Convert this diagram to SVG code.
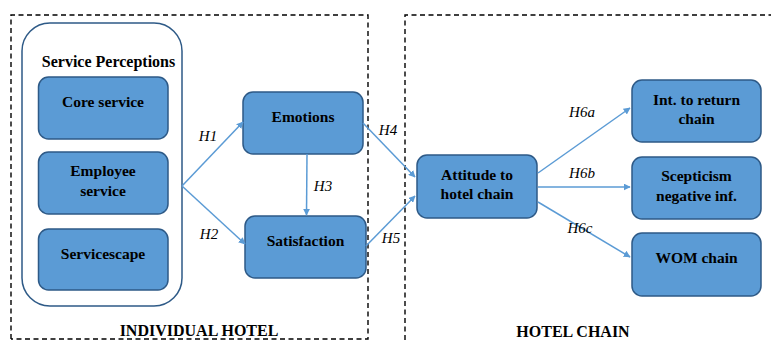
<svg xmlns="http://www.w3.org/2000/svg" width="771" height="340" viewBox="0 0 771 340" font-family="'Liberation Serif', 'Times New Roman', serif">
<defs>
<style>
.frame{fill:none;stroke:#000;stroke-width:1.4;stroke-dasharray:5,3.5}
.group{fill:#fff;stroke:#2E5A87;stroke-width:1.5}
.box{fill:#5B9BD5;stroke:#2E5A87;stroke-width:1.5}
.t{font-weight:bold;font-size:15.5px;fill:#000;text-anchor:middle}
.h{font-weight:bold;font-size:16px;fill:#000;text-anchor:middle}
.lbl{font-style:italic;font-size:15px;fill:#000;text-anchor:middle}
.edge{fill:none;stroke:#5B9BD5;stroke-width:1.5;marker-end:url(#ah)}
</style>
<marker id="ah" viewBox="0 0 10 10" refX="9" refY="5" markerWidth="7" markerHeight="7" markerUnits="userSpaceOnUse" orient="auto">
<path d="M0,0 L10,5 L0,10 Z" fill="#5B9BD5"/>
</marker>
</defs>
<g id="individual-hotel">
<path class="frame" d="M11,339 L11,15 L368,15 L368,339 L11,339"/>
<text class="h" x="199" y="336">INDIVIDUAL HOTEL</text>
</g>
<g id="hotel-chain">
<path class="frame" d="M405,340 L405,15 L790,15"/>
<text class="h" x="573" y="337">HOTEL CHAIN</text>
</g>
<g id="service-perceptions">
<rect class="group" x="22" y="23" width="160" height="283" rx="28"/>
<text class="h" x="108.5" y="67">Service Perceptions</text>
</g>
<g id="core-service">
<rect class="box" x="38.5" y="77" width="129.5" height="62" rx="10"/>
<text class="t" x="103" y="107">Core service</text>
</g>
<g id="employee-service">
<rect class="box" x="38.5" y="152" width="129.5" height="62" rx="10"/>
<text class="t" x="103" y="176">Employee</text>
<text class="t" x="103" y="196">service</text>
</g>
<g id="servicescape">
<rect class="box" x="38.5" y="229" width="129.5" height="61" rx="10"/>
<text class="t" x="103" y="259">Servicescape</text>
</g>
<g id="emotions">
<rect class="box" x="243" y="92" width="120" height="62" rx="10"/>
<text class="t" x="303" y="122">Emotions</text>
</g>
<g id="satisfaction">
<rect class="box" x="245" y="216" width="121" height="62" rx="10"/>
<text class="t" x="305.5" y="246">Satisfaction</text>
</g>
<g id="attitude">
<rect class="box" x="417" y="155" width="120" height="63" rx="10"/>
<text class="t" x="477" y="180">Attitude to</text>
<text class="t" x="477" y="199">hotel chain</text>
</g>
<g id="int-return">
<rect class="box" x="632" y="80" width="129" height="62" rx="10"/>
<text class="t" x="696.5" y="105">Int. to return</text>
<text class="t" x="696.5" y="124">chain</text>
</g>
<g id="scepticism">
<rect class="box" x="632" y="157" width="129" height="62" rx="10"/>
<text class="t" x="696.5" y="181">Scepticism</text>
<text class="t" x="696.5" y="201">negative inf.</text>
</g>
<g id="wom-chain">
<rect class="box" x="632" y="233" width="129" height="63" rx="10"/>
<text class="t" x="696.5" y="263">WOM chain</text>
</g>
<g id="connectors">
<path class="edge" d="M182,186 L243,122"/>
<path class="edge" d="M182,186 L245,244"/>
<path class="edge" d="M307,154 L306.5,215"/>
<path class="edge" d="M363,123 L415,177"/>
<path class="edge" d="M366,246 L415,196"/>
<path class="edge" d="M538,173 L630,108"/>
<path class="edge" d="M538,187 L630,187"/>
<path class="edge" d="M538,202 L630,257"/>
<text class="lbl" x="208" y="141">H1</text>
<text class="lbl" x="209" y="239">H2</text>
<text class="lbl" x="323" y="191">H3</text>
<text class="lbl" x="388" y="135">H4</text>
<text class="lbl" x="391" y="243">H5</text>
<text class="lbl" x="582" y="117">H6a</text>
<text class="lbl" x="582" y="178">H6b</text>
<text class="lbl" x="580" y="233">H6c</text>
</g>
</svg>
